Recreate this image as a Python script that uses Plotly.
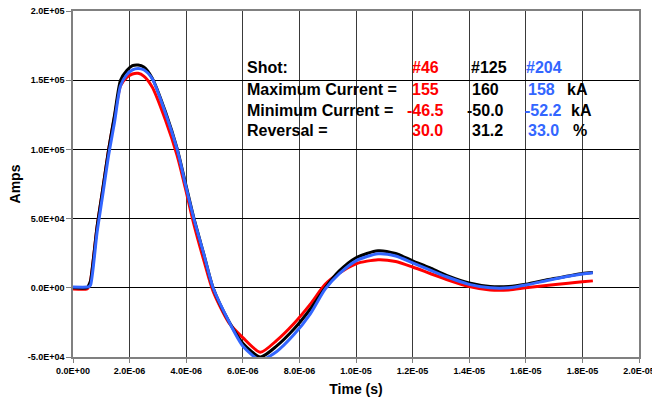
import plotly.graph_objects as go

# Time samples (microseconds)
time_us = [0, 0.50, 0.56, 0.62, 0.85, 1.05, 1.26, 1.47, 1.68, 1.90, 2.10, 2.30, 2.50, 2.80,
           3.27, 3.68, 3.97, 4.27, 4.62, 4.95, 5.50, 6.00, 6.62, 7.20, 7.80, 8.38, 8.91,
           9.40, 10.00, 10.78, 11.40, 12.00, 12.60, 13.20, 14.00, 14.74, 15.40, 16.00,
           16.80, 17.50, 18.00, 18.37]

# Currents in kA
shot46_kA = [-0.8, -0.8, 1, 5, 44, 71, 100, 124, 146, 152, 154.5, 155, 153, 145,
             121, 95.5, 72, 46, 20, -2.5, -25, -36, -46.5, -38, -26, -12, 2.5,
             10.5, 17.4, 20.3, 19, 15, 10.5, 6, 1, -1.5, -1.5, 0,
             1.8, 3.3, 4.3, 5]
shot125_kA = [0, 0, 2, 5, 44, 71, 100, 125, 150, 157, 160.5, 161, 159.5, 151.5,
              127, 100.5, 76, 50.5, 24.5, 0, -24, -40, -50, -42, -30, -15.5, 0,
              12, 21.7, 26.8, 24.8, 19.5, 14.5, 9, 3.5, 1, 1, 2.6,
              6, 8.5, 10.3, 11]
shot204_kA = [0.5, 0.5, 0.8, 2, 40, 67, 96, 120, 146, 154, 157.5, 158.5, 157.5, 151,
              126, 100, 75, 50, 24.4, 0, -24, -42, -52.2, -46, -34, -19, -1,
              10, 19.5, 24.6, 23, 18, 13, 8, 2.5, 0, 0, 2,
              5.5, 8.3, 10, 10.9]

series_names = ["#46", "#125", "#204"]
series_colors = ["#FF0000", "#000000", "#3366FF"]

x_tick_vals = [i * 2e-6 for i in range(11)]
x_tick_text = ["0.0E+00", "2.0E-06", "4.0E-06", "6.0E-06", "8.0E-06", "1.0E-05",
               "1.2E-05", "1.4E-05", "1.6E-05", "1.8E-05", "2.0E-05"]
y_tick_vals = [-50000, 0, 50000, 100000, 150000, 200000]
y_tick_text = ["-5.0E+04", "0.0E+00", "5.0E+04", "1.0E+05", "1.5E+05", "2.0E+05"]

table_labels = ["Shot:", "Maximum Current =", "Minimum Current =", "Reversal ="]
col46 = ["#46", "155", "-46.5", "30.0"]
col125 = ["#125", "160", "-50.0", "31.2"]
col204 = ["#204", "158", "-52.2", "33.0"]
units = ["", "kA", "kA", "%"]

t_s = [t * 1e-6 for t in time_us]

fig = go.Figure()
for name, vals, col in [("#46", shot46_kA, series_colors[0]),
                        ("#125", shot125_kA, series_colors[1]),
                        ("#204", shot204_kA, series_colors[2])]:
    fig.add_trace(go.Scatter(x=t_s, y=[v * 1000 for v in vals], mode="lines", name=name,
                             line=dict(color=col, width=3, shape="spline", smoothing=0.7)))

FONT = "Liberation Sans, Arial, sans-serif"

W, H = 652, 403
L, R, T, B = 73, 639, 11, 357

def px(x):
    return (x - L) / (R - L)

def py(y):
    return (B - y) / (B - T)

annotations = []
row_y = [68, 90, 110, 130]
def add_text(txt, x, y, color, size=16):
    annotations.append(dict(text=txt, x=px(x - 3), y=py(y), xref="paper", yref="paper",
                            xanchor="left", yanchor="middle", showarrow=False,
                            font=dict(family=FONT, size=size, color=color, weight="bold")))

for i in range(4):
    add_text(table_labels[i], 248, row_y[i], "black")
col46_x = [413, 413, 408, 413]
col125_x = [472, 473, 468, 473]
col204_x = [527, 529, 526, 529]
units_x = [0, 568, 572, 574]
for i in range(4):
    add_text(col46[i], col46_x[i], row_y[i], series_colors[0])
    add_text(col125[i], col125_x[i], row_y[i], series_colors[1])
    add_text(col204[i], col204_x[i], row_y[i], series_colors[2])
    if units[i]:
        add_text(units[i], units_x[i], row_y[i], "black")

fig.update_layout(
    width=W, height=H,
    margin=dict(l=L, r=W - R, t=T, b=H - B),
    plot_bgcolor="white", paper_bgcolor="white",
    showlegend=False,
    annotations=annotations,
    font=dict(family=FONT, color="black"),
)
fig.update_xaxes(
    range=[0, 2e-5], tickvals=x_tick_vals, ticktext=x_tick_text,
    tickfont=dict(family=FONT, size=9, weight="bold"), ticklabeloverflow="allow",
    showgrid=True, gridcolor="#3a3a3a", gridwidth=1,
    showline=True, linecolor="#808080", linewidth=1.5, mirror=True,
    ticks="outside", ticklen=4, tickcolor="#808080",
    zeroline=False, automargin=False,
    title=dict(text="Time (s)", font=dict(family=FONT, size=14, weight="bold"), standoff=10),
)
fig.update_yaxes(
    range=[-50000, 200000], tickvals=y_tick_vals, ticktext=y_tick_text,
    tickfont=dict(family=FONT, size=9, weight="bold"), ticklabeloverflow="allow",
    showgrid=True, gridcolor="black", gridwidth=1,
    showline=True, linecolor="#808080", linewidth=1.5, mirror=True,
    ticks="outside", ticklen=5, tickcolor="#808080",
    zeroline=False, automargin=False,
    title=dict(text="Amps", font=dict(family=FONT, size=14, weight="bold"), standoff=4),
)

fig.write_html("out.html", config={"displayModeBar": False},
               post_script="document.body.style.margin='0';")
